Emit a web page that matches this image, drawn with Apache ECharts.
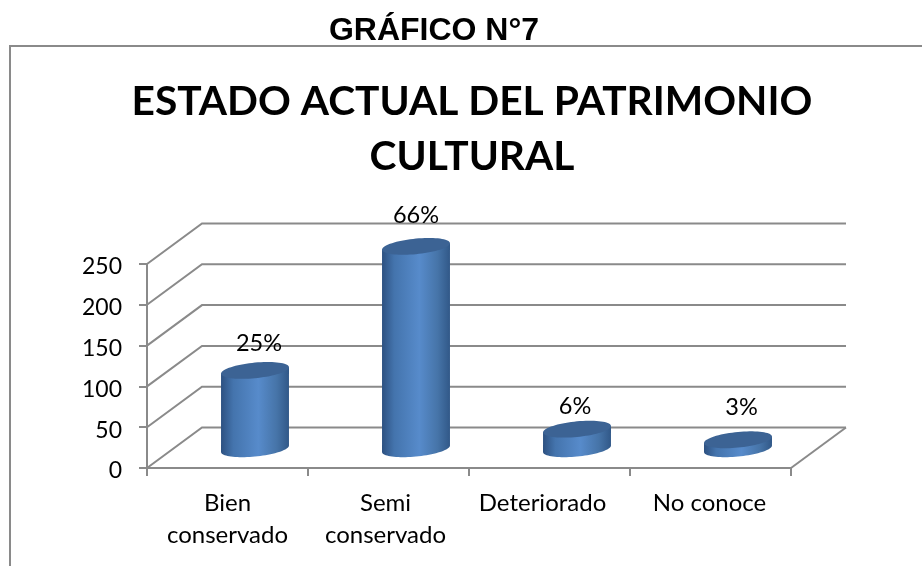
<!DOCTYPE html>
<html>
<head>
<meta charset="utf-8">
<style>html,body{margin:0;padding:0;background:#fff}#c{width:922px;height:566px}</style>
<script src="https://cdn.jsdelivr.net/npm/echarts@6/dist/echarts.min.js"></script>
</head>
<body>
<div id="c"></div>
<script>
const categories = ['Bien\nconservado', 'Semi\nconservado', 'Deteriorado', 'No conoce'];
const values = [96, 248, 24, 11];
const percentLabels = ['25%', '66%', '6%', '3%'];
const yTicks = [0, 50, 100, 150, 200, 250];

const AXIS = '#8a8a8a';
const LINE_W = 2;
const DEPTH_X = 55, DEPTH_Y = 40.5;
const NUDGE = [[4, -27], [0, -31], [-2, -22.5], [3.5, -32]];
const CAT_SHIFT = [0, 6, 14, 2];

function ell(cx, cy, a, b, k, from, to, n) {
  const pts = [];
  for (let j = 0; j <= n; j++) {
    const t = from + (to - from) * j / n;
    pts.push([cx + a * Math.cos(t), cy + b * Math.sin(t) - k * Math.cos(t)]);
  }
  return pts;
}

function renderGrid(params, api) {
  const v = api.value(0);
  const cs = params.coordSys;
  const y = api.coord([0, v])[1];
  const x0 = cs.x, x1 = cs.x + cs.width;
  return {
    type: 'polyline',
    shape: { points: [[x0, y], [x0 + DEPTH_X, y - DEPTH_Y], [x1 + DEPTH_X, y - DEPTH_Y]] },
    style: { stroke: AXIS, lineWidth: LINE_W, fill: null }
  };
}

function renderFloorEdge(params, api) {
  const cs = params.coordSys;
  const y = api.coord([0, 0])[1];
  const x1 = cs.x + cs.width;
  return {
    type: 'line',
    shape: { x1: x1, y1: y, x2: x1 + DEPTH_X, y2: y - DEPTH_Y },
    style: { stroke: AXIS, lineWidth: LINE_W }
  };
}

function renderBar(params, api) {
  const i = api.value(0), v = api.value(1);
  const band = api.size([1, 0])[0];
  const a = band * 0.211, b = 7.8, k = 3.2;
  const base = api.coord([i, 0]), top = api.coord([i, v]);
  const cx = base[0] + DEPTH_X / 2;
  const by = base[1] - DEPTH_Y / 2 + 1, ty = top[1] - DEPTH_Y / 2 + 1;
  const bodyPts = [[cx + a, ty - k]]
    .concat(ell(cx, by, a, b, k, 0, Math.PI, 40))
    .concat([[cx - a, ty + k]]);
  const n = NUDGE[params.dataIndex];
  return {
    type: 'group',
    children: [
      {
        type: 'polygon',
        shape: { points: bodyPts },
        style: {
          fill: {
            type: 'linear', x: 0, y: 0, x2: 1, y2: 0,
            colorStops: [
              { offset: 0, color: '#2d5181' },
              { offset: 0.18, color: '#4474ad' },
              { offset: 0.55, color: '#578bcb' },
              { offset: 0.82, color: '#4674a8' },
              { offset: 1, color: '#315888' }
            ]
          }
        }
      },
      {
        type: 'polygon',
        shape: { points: ell(cx, ty, a, b, k, 0, Math.PI * 2, 72) },
        style: { fill: '#3c6394' }
      },
      {
        type: 'text',
        style: {
          text: percentLabels[params.dataIndex],
          x: cx + n[0], y: ty + n[1],
          fill: '#000', font: '23.5px Lato',
          textAlign: 'center', textVerticalAlign: 'middle'
        }
      }
    ]
  };
}

const catRich = {};
CAT_SHIFT.forEach((s, i) => {
  catRich['s' + i] = { color: '#000', fontFamily: 'Lato', fontSize: 24, lineHeight: 32, padding: [0, s, 0, 0] };
});

const chart = echarts.init(document.getElementById('c'), null, { renderer: 'canvas' });
chart.setOption({
  animation: false,
  backgroundColor: '#ffffff',
  title: [
    {
      text: 'GRÁFICO N°7', left: 429, top: 10, textAlign: 'center',
      textStyle: { fontFamily: 'Liberation Sans', fontWeight: 'bold', fontSize: 32, color: '#000' }
    },
    {
      text: 'ESTADO ACTUAL DEL PATRIMONIO\nCULTURAL', left: 467, top: 69, textAlign: 'center',
      textStyle: { fontFamily: 'Lato', fontWeight: 'bold', fontSize: 40.7, lineHeight: 55, color: '#000' }
    }
  ],
  graphic: [{
    type: 'rect', silent: true, z: -1,
    shape: { x: 10, y: 46, width: 1000, height: 600 },
    style: { fill: '#fff', stroke: AXIS, lineWidth: LINE_W }
  }],
  grid: { left: 147, top: 264, width: 644, height: 204, containLabel: false },
  xAxis: {
    type: 'category', data: categories,
    axisLine: { lineStyle: { color: AXIS, width: LINE_W } },
    axisTick: { show: true, alignWithLabel: false, length: 8, lineStyle: { color: AXIS, width: LINE_W } },
    axisLabel: {
      margin: 19, interval: 0, rich: catRich,
      formatter: (val, idx) => val.split('\n').map(l => '{s' + idx + '|' + l + '}').join('\n')
    }
  },
  yAxis: {
    type: 'value', min: 0, max: 250, interval: 50,
    axisLine: { show: true, lineStyle: { color: AXIS, width: LINE_W } },
    axisTick: { show: true, length: 8, lineStyle: { color: AXIS, width: LINE_W } },
    axisLabel: { color: '#000', fontFamily: 'Lato', fontSize: 23, margin: 25, verticalAlign: 'top', lineHeight: 24, padding: [-9, 0, 0, 0] },
    splitLine: { show: false }
  },
  series: [
    {
      type: 'custom', coordinateSystem: 'cartesian2d', z: 1, clip: false, silent: true,
      renderItem: renderGrid, data: yTicks.map(v => [v]), encode: { x: [], y: [] }
    },
    {
      type: 'custom', coordinateSystem: 'cartesian2d', z: 1, clip: false, silent: true,
      renderItem: renderFloorEdge, data: [[0]], encode: { x: [], y: [] }
    },
    {
      type: 'custom', coordinateSystem: 'cartesian2d', z: 3, clip: false, silent: true,
      renderItem: renderBar,
      data: values.map((v, i) => [i, v]), encode: { x: 0, y: 1 }
    }
  ]
});
</script>
</body>
</html>
